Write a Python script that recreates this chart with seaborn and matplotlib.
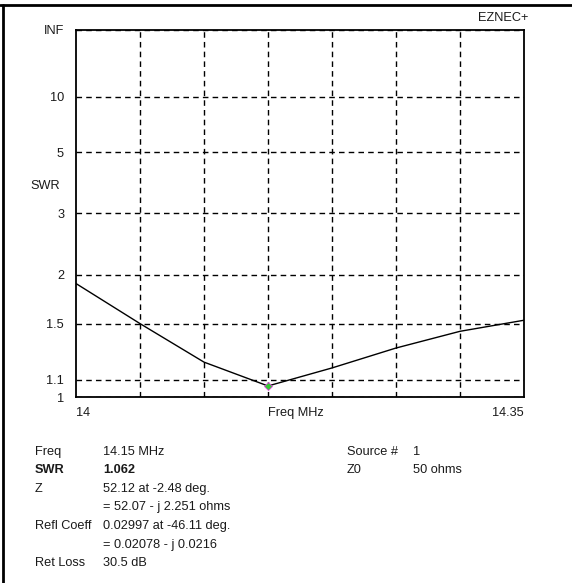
import numpy as np
import matplotlib
matplotlib.use("Agg")
import matplotlib.pyplot as plt
from matplotlib.lines import Line2D
import seaborn as sns
import pandas as pd

# Data
freq_mhz = [14.00, 14.05, 14.10, 14.15, 14.20, 14.25, 14.30, 14.35]
swr_vals = [1.895, 1.50, 1.21, 1.062, 1.172, 1.308, 1.436, 1.529]
ytick_vals = [1, 1.1, 1.5, 2, 3, 5, 10, 1e12]
ytick_labels = ["1", "1.1", "1.5", "2", "3", "5", "10", "INF"]
xgrid_vals = [14.05, 14.10, 14.15, 14.20, 14.25, 14.30]
marker_freq = [14.15]
marker_swr = [1.062]

info_left = [("Freq", "14.15 MHz", False), ("SWR", "1.062", True),
             ("Z", "52.12 at -2.48 deg.", False), ("", "= 52.07 - j 2.251 ohms", False),
             ("Refl Coeff", "0.02997 at -46.11 deg.", False), ("", "= 0.02078 - j 0.0216", False),
             ("Ret Loss", "30.5 dB", False)]
info_right = [("Source #", "1"), ("Z0", "50 ohms")]

sns.set_style("white")
plt.rcParams['font.family'] = ['Liberation Sans', 'DejaVu Sans']
FS = 9.2
TC = "#1a1a1a"

W, H = 572, 583
fig = plt.figure(figsize=(W / 100, H / 100), dpi=100)
ax = fig.add_axes([76 / W, 1 - 397 / H, 448 / W, 367 / H])

df = pd.DataFrame({"freq": freq_mhz, "swr": swr_vals})
sns.lineplot(data=df, x="freq", y="swr", ax=ax, color="black", lw=1, zorder=3)
ax.plot(marker_freq, marker_swr, marker="D", ms=4, color="#33cc33",
        mec="#dd44dd", mew=0.6, zorder=4, ls="none")


def fwd(s):
    s = np.asarray(s, dtype=float)
    return (s - 1) / (s + 1)


def inv(r):
    r = np.asarray(r, dtype=float)
    with np.errstate(divide="ignore", invalid="ignore"):
        return (1 + r) / np.clip(1 - r, 1e-12, None)


ax.set_yscale("function", functions=(fwd, inv))
ax.set_ylim(1, 1e12)
ax.set_xlim(14.0, 14.35)
ax.set_yticks(ytick_vals)
ax.set_yticklabels(ytick_labels, fontsize=FS, color=TC)
ax.set_xticks(xgrid_vals)
ax.set_xticklabels([])
ax.tick_params(length=0, pad=8.6)
ax.grid(True, color="black", linestyle=(0, (4, 3)), lw=1)
ax.set_axisbelow(True)
for sp in ax.spines.values():
    sp.set_color("black")
    sp.set_linewidth(1.3)
ax.set_xlabel("")
ax.set_ylabel("SWR", rotation=0, fontsize=FS, color=TC, ha="center", va="center")
ax.yaxis.set_label_coords(-31 / 448, (397 - 186) / 367)

# x labels
ax.text(0, -16 / 367, "14", transform=ax.transAxes, ha="left", va="center", fontsize=FS, color=TC)
ax.text(1, -16 / 367, "14.35", transform=ax.transAxes, ha="right", va="center", fontsize=FS, color=TC)
ax.text((268 - 76) / 448, -16 / 367, "Freq MHz", transform=ax.transAxes, ha="left", va="center",
        fontsize=FS, color=TC)

fig.text(528 / W, 1 - 18 / H, "EZNEC+", ha="right", va="center", fontsize=FS, color=TC)

rows_y = [452, 470, 489, 507, 526, 545, 563]
for (lab, val, bold), yy in zip(info_left, rows_y):
    fw = "bold" if bold else "normal"
    if lab:
        fig.text(35 / W, 1 - yy / H, lab, ha="left", va="center", fontsize=FS, fontweight=fw, color=TC)
    fig.text(103 / W, 1 - yy / H, val, ha="left", va="center", fontsize=FS, fontweight=fw, color=TC)
for (lab, val), yy in zip(info_right, rows_y[:2]):
    fig.text(347 / W, 1 - yy / H, lab, ha="left", va="center", fontsize=FS, color=TC)
    fig.text(413 / W, 1 - yy / H, val, ha="left", va="center", fontsize=FS, color=TC)

# outer frame lines
fig.add_artist(Line2D([0, 1], [1 - 5 / H, 1 - 5 / H], color="black", lw=2, transform=fig.transFigure))
fig.add_artist(Line2D([3 / W, 3 / W], [0, 1 - 5 / H], color="black", lw=2, transform=fig.transFigure))

fig.savefig("out.png", dpi=100)
